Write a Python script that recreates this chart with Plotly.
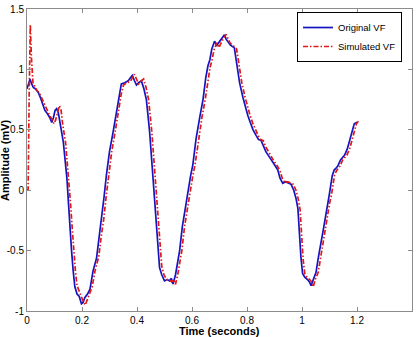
import plotly.graph_objects as go

# Original VF (blue)
orig_t = [0.000, 0.005, 0.011, 0.017, 0.023, 0.030, 0.041, 0.050, 0.058, 0.065, 0.075, 0.083, 0.090, 0.096,
          0.102, 0.108, 0.114, 0.122, 0.132, 0.145, 0.150, 0.156, 0.162, 0.168, 0.174, 0.182, 0.190, 0.198,
          0.204, 0.210, 0.220, 0.229, 0.240, 0.253, 0.262, 0.271, 0.280, 0.289, 0.300, 0.313, 0.325, 0.335,
          0.343, 0.355, 0.368, 0.376, 0.383, 0.390, 0.398, 0.406, 0.416, 0.425, 0.434, 0.440, 0.446, 0.455,
          0.464, 0.475, 0.482, 0.490, 0.500, 0.510, 0.518, 0.525, 0.531, 0.540, 0.549, 0.555, 0.565, 0.575,
          0.585, 0.595, 0.603, 0.615, 0.628, 0.640, 0.650, 0.658, 0.665, 0.672, 0.682, 0.690, 0.700, 0.710,
          0.718, 0.724, 0.730, 0.740, 0.754, 0.763, 0.773, 0.785, 0.795, 0.803, 0.812, 0.822, 0.833, 0.842,
          0.851, 0.860, 0.869, 0.880, 0.890, 0.900, 0.912, 0.920, 0.930, 0.940, 0.950, 0.960, 0.970, 0.978,
          0.985, 0.990, 0.996, 1.002, 1.010, 1.020, 1.027, 1.033, 1.040, 1.051, 1.060, 1.069, 1.078, 1.087,
          1.093, 1.099, 1.110, 1.117, 1.123, 1.130, 1.140, 1.148, 1.155, 1.165, 1.172, 1.180, 1.190, 1.200]
orig_v = [0.84, 0.877, 0.918, 0.88, 0.85, 0.84, 0.81, 0.76, 0.70, 0.66, 0.63, 0.60, 0.56, 0.60,
          0.66, 0.675, 0.64, 0.52, 0.40, 0.10, -0.09, -0.30, -0.50, -0.67, -0.80, -0.86, -0.88, -0.94,
          -0.93, -0.89, -0.86, -0.82, -0.67, -0.56, -0.40, -0.26, -0.06, 0.13, 0.32, 0.48, 0.65, 0.80,
          0.88, 0.89, 0.905, 0.93, 0.95, 0.91, 0.87, 0.89, 0.905, 0.84, 0.75, 0.62, 0.48, 0.20,
          -0.07, -0.38, -0.64, -0.70, -0.75, -0.74, -0.75, -0.73, -0.776, -0.70, -0.58, -0.50, -0.30, -0.15,
          0.00, 0.12, 0.21, 0.43, 0.60, 0.75, 0.93, 1.03, 1.08, 1.17, 1.233, 1.20, 1.23, 1.26,
          1.287, 1.25, 1.233, 1.20, 1.178, 1.05, 0.89, 0.77, 0.68, 0.618, 0.56, 0.50, 0.454, 0.42,
          0.413, 0.36, 0.317, 0.28, 0.24, 0.21, 0.167, 0.10, 0.057, 0.07, 0.06, 0.05, 0.00, -0.066,
          -0.15, -0.34, -0.55, -0.69, -0.72, -0.74, -0.76, -0.79, -0.74, -0.68, -0.55, -0.45, -0.32, -0.20,
          -0.10, -0.04, 0.12, 0.167, 0.18, 0.20, 0.25, 0.276, 0.29, 0.344, 0.40, 0.48, 0.55, 0.563]

# Simulated VF (red)
sim_t = [0.000, 0.004, 0.008, 0.012, 0.016, 0.022, 0.028, 0.035, 0.046, 0.056, 0.064, 0.072, 0.082, 0.090,
         0.098, 0.104, 0.112, 0.118, 0.124, 0.130, 0.140, 0.152, 0.158, 0.164, 0.170, 0.176, 0.182, 0.190,
         0.198, 0.206, 0.212, 0.218, 0.228, 0.237, 0.248, 0.261, 0.270, 0.279, 0.288, 0.297, 0.308, 0.321,
         0.333, 0.343, 0.351, 0.363, 0.376, 0.384, 0.390, 0.398, 0.406, 0.414, 0.424, 0.433, 0.442, 0.448,
         0.454, 0.463, 0.472, 0.483, 0.490, 0.498, 0.508, 0.518, 0.526, 0.533, 0.540, 0.548, 0.557, 0.563,
         0.573, 0.583, 0.593, 0.603, 0.611, 0.623, 0.636, 0.648, 0.658, 0.666, 0.673, 0.680, 0.690, 0.698,
         0.708, 0.716, 0.724, 0.732, 0.738, 0.748, 0.762, 0.771, 0.781, 0.793, 0.803, 0.811, 0.820, 0.830,
         0.841, 0.850, 0.859, 0.868, 0.877, 0.888, 0.898, 0.908, 0.920, 0.928, 0.938, 0.948, 0.958, 0.968,
         0.978, 0.986, 0.993, 0.998, 1.004, 1.010, 1.018, 1.028, 1.035, 1.041, 1.048, 1.059, 1.068, 1.077,
         1.086, 1.095, 1.101, 1.107, 1.118, 1.125, 1.131, 1.138, 1.148, 1.156, 1.163, 1.173, 1.180, 1.188,
         1.198, 1.205]
sim_v = [0.00, 0.00, 0.80, 1.37, 1.10, 0.88, 0.86, 0.83, 0.80, 0.75, 0.70, 0.66, 0.62, 0.59,
         0.55, 0.58, 0.65, 0.70, 0.66, 0.54, 0.40, 0.10, -0.10, -0.30, -0.50, -0.67, -0.79, -0.84,
         -0.88, -0.93, -0.95, -0.91, -0.86, -0.80, -0.66, -0.55, -0.38, -0.24, -0.05, 0.14, 0.32, 0.49,
         0.66, 0.80, 0.87, 0.89, 0.90, 0.94, 0.96, 0.92, 0.88, 0.90, 0.92, 0.85, 0.75, 0.62,
         0.48, 0.20, -0.08, -0.40, -0.63, -0.70, -0.74, -0.74, -0.76, -0.74, -0.78, -0.70, -0.58, -0.50,
         -0.30, -0.16, 0.00, 0.12, 0.21, 0.42, 0.60, 0.75, 0.92, 1.02, 1.08, 1.16, 1.22, 1.18,
         1.23, 1.26, 1.29, 1.25, 1.22, 1.20, 1.17, 1.04, 0.89, 0.77, 0.68, 0.62, 0.56, 0.50,
         0.45, 0.42, 0.41, 0.36, 0.32, 0.28, 0.24, 0.21, 0.16, 0.10, 0.06, 0.07, 0.06, 0.05,
         0.00, -0.07, -0.16, -0.36, -0.57, -0.69, -0.72, -0.74, -0.76, -0.80, -0.74, -0.68, -0.55, -0.45,
         -0.32, -0.20, -0.10, -0.04, 0.12, 0.16, 0.18, 0.20, 0.25, 0.27, 0.29, 0.34, 0.40, 0.48,
         0.55, 0.57]

x_ticks = [0, 0.2, 0.4, 0.6, 0.8, 1.0, 1.2, 1.4]
x_labels = ["0", "0.2", "0.4", "0.6", "0.8", "1", "1.2", "1.4"]
y_ticks = [-1, -0.5, 0, 0.5, 1, 1.5]
y_labels = ["-1", "-0.5", "0", "0.5", "1", "1.5"]

fig = go.Figure()
fig.add_trace(go.Scatter(x=orig_t, y=orig_v, mode="lines", name="Original VF",
                         line=dict(color="#1414C0", width=1.7)))
fig.add_trace(go.Scatter(x=sim_t, y=sim_v, mode="lines", name="Simulated VF",
                         line=dict(color="#E01818", width=1.7, dash="5px,2px,1.5px,2px")))

axis_common = dict(showgrid=False, zeroline=False, showline=True, linecolor="#8c8c8c", linewidth=1,
                   mirror="ticks", ticks="inside", ticklen=4, tickcolor="#8c8c8c",
                   tickfont=dict(family="Arial, Liberation Sans", size=10, color="black"))

fig.update_xaxes(range=[0, 1.4], tickvals=x_ticks, ticktext=x_labels, **axis_common)
fig.update_yaxes(range=[-1, 1.5], tickvals=y_ticks, ticktext=y_labels, **axis_common)

fig.update_layout(
    width=416, height=337,
    margin=dict(l=27, r=3, t=6, b=26),
    paper_bgcolor="white", plot_bgcolor="white",
    showlegend=True,
    legend=dict(x=0.974, y=0.99, xanchor="right", yanchor="top",
                bgcolor="white", bordercolor="black", borderwidth=1,
                font=dict(family="Arial, Liberation Sans", size=9.5, color="black"),
                itemwidth=30, tracegroupgap=0),
    annotations=[
        dict(text="<b>Time (seconds)</b>", xref="paper", yref="paper", x=0.5, y=0,
             xanchor="center", yanchor="middle", yshift=-20, showarrow=False,
             font=dict(family="Arial, Liberation Sans", size=11, color="black")),
        dict(text="<b>Amplitude (mV)</b>", xref="paper", yref="paper", x=0, y=0.5,
             xanchor="center", yanchor="middle", xshift=-22, textangle=-90, showarrow=False,
             font=dict(family="Arial, Liberation Sans", size=11, color="black")),
    ],
)

fig.write_html("out.html")
